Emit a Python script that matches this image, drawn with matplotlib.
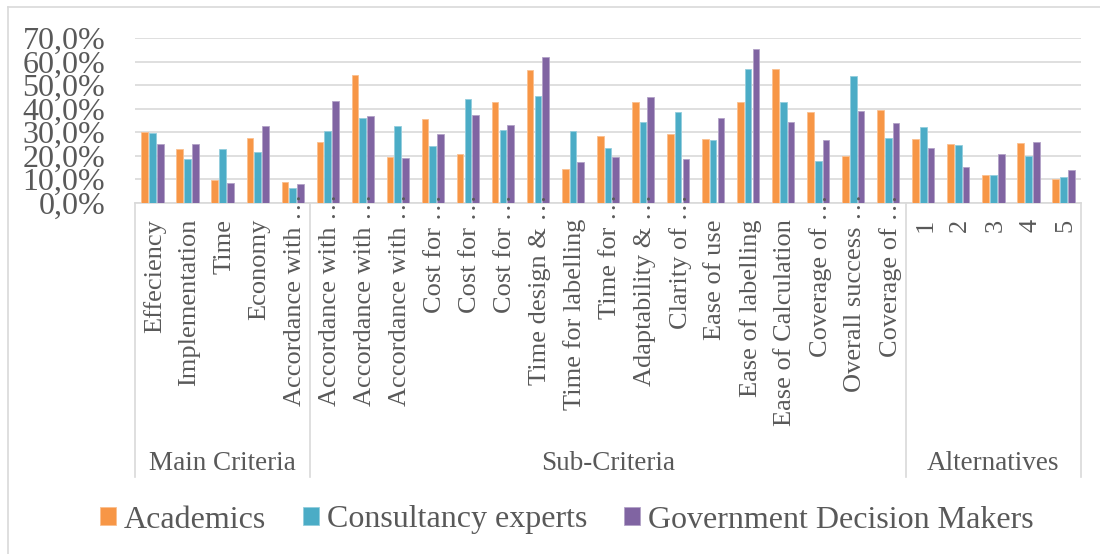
import matplotlib
matplotlib.use("Agg")
import matplotlib.pyplot as plt
import matplotlib.transforms as mtransforms
from matplotlib.lines import Line2D
import numpy as np

# ---------------- data ----------------
categories = [
    "Effeciency", "Implementation", "Time", "Economy", "Accordance with \u2026",
    "Accordance with \u2026", "Accordance with \u2026", "Accordance with \u2026",
    "Cost for \u2026", "Cost for \u2026", "Cost for \u2026",
    "Time design & \u2026", "Time for labelling", "Time for \u2026",
    "Adaptability & \u2026", "Clarity of \u2026", "Ease of use", "Ease of labelling",
    "Ease of Calculation", "Coverage of \u2026", "Overall success \u2026", "Coverage of \u2026",
    "1", "2", "3", "4", "5",
]
groups = ["Main Criteria", "Sub-Criteria", "Alternatives"]
group_sizes = [5, 17, 5]

series_names = ["Academics", "Consultancy experts", "Government Decision Makers"]
academics = [30.0, 22.7, 9.7, 27.7, 8.7,
             25.7, 54.2, 19.3, 35.7, 20.6, 42.8, 56.5, 14.2, 28.4,
             42.8, 29.2, 27.1, 42.7, 56.9, 38.6, 20.0, 39.6,
             27.2, 24.8, 11.7, 25.3, 10.2]
consultancy = [29.7, 18.6, 22.8, 21.6, 6.1,
               30.6, 36.0, 32.6, 24.1, 44.0, 31.1, 45.4, 30.6, 23.1,
               34.2, 38.6, 26.5, 56.9, 42.7, 17.7, 54.0, 27.5,
               32.2, 24.6, 11.7, 19.9, 10.9]
government = [25.0, 25.0, 8.2, 32.5, 8.0,
              43.1, 36.9, 19.0, 29.2, 37.2, 32.9, 62.1, 17.4, 19.6,
              44.8, 18.5, 36.0, 65.3, 34.5, 26.8, 38.9, 33.8,
              23.1, 15.0, 20.9, 25.8, 13.9]
y_ticks = [0, 10, 20, 30, 40, 50, 60, 70]
y_tick_labels = ["0,0%", "10,0%", "20,0%", "30,0%", "40,0%", "50,0%", "60,0%", "70,0%"]

colors = ["#F79646", "#4BACC6", "#8064A2"]
edge_colors = ["#FAC090", "#93CDDD", "#B3A2C7"]
text_color = "#595959"
line_color = "#D9D9D9"

plt.rcParams["font.family"] = ["Liberation Serif", "DejaVu Serif"]

W, H = 1100, 554
fig = plt.figure(figsize=(W / 100, H / 100), dpi=100)
ax = fig.add_axes([135 / W, 1 - 202.7 / H, 946 / W, 164.4 / H])

x = np.arange(len(categories))
bw = 0.19
off = 0.222
for i, vals in enumerate([academics, consultancy, government]):
    ax.bar(x + (i - 1) * off, vals, width=bw, color=colors[i],
           edgecolor=edge_colors[i], linewidth=0.6, label=series_names[i], zorder=3)

ax.set_xlim(-0.5, len(categories) - 0.5)
ax.set_ylim(0, 70)
ax.set_yticks(y_ticks)
ax.set_yticklabels(y_tick_labels, fontsize=23, color=text_color)
ax.tick_params(axis="y", length=0, pad=21.5)
ax.set_xticks([])
ax.yaxis.grid(True, color=line_color, linewidth=1.2, zorder=0)
ax.set_axisbelow(True)
for s in ["left", "right", "top"]:
    ax.spines[s].set_visible(False)
ax.spines["bottom"].set_color(line_color)
ax.spines["bottom"].set_linewidth(1.2)

trans = mtransforms.blended_transform_factory(ax.transData, fig.transFigure)
shift = mtransforms.ScaledTranslation(2 / 100, 0, fig.dpi_scale_trans)

# category labels
for xi, lab in zip(x, categories):
    top_px = 194 if lab.endswith("\u2026") else 219
    ax.text(xi, 1 - top_px / H, lab, rotation=90, ha="center", va="top",
            rotation_mode="default", fontsize=19, color=text_color,
            transform=trans + shift, zorder=5, clip_on=False)

# group separators and labels
bounds = np.concatenate([[0], np.cumsum(group_sizes)]) - 0.5
for b in bounds:
    fig.add_artist(Line2D([b, b], [1 - 203 / H, 1 - 477 / H], transform=trans,
                          color=line_color, linewidth=1.2))
for g, a, b in zip(groups, bounds[:-1], bounds[1:]):
    ax.text((a + b) / 2, 1 - 463 / H, g, ha="center", va="center",
            fontsize=19.5, color=text_color, transform=trans, clip_on=False)

# chart border
fig.add_artist(Line2D([8 / W, 1.0], [1 - 7 / H, 1 - 7 / H], transform=fig.transFigure,
                      color=line_color, linewidth=1.2))
fig.add_artist(Line2D([8 / W, 8 / W], [1 - 7 / H, 0.0], transform=fig.transFigure,
                      color=line_color, linewidth=1.2))

# legend
leg = fig.legend(loc="center", bbox_to_anchor=(567 / W, 1 - 520 / H), ncol=3,
                 frameon=False, fontsize=23, handlelength=0.5, handleheight=0.5,
                 handletextpad=0.25, columnspacing=1.15, borderpad=0)
for t in leg.get_texts():
    t.set_color(text_color)

fig.savefig("out.png", dpi=100)
